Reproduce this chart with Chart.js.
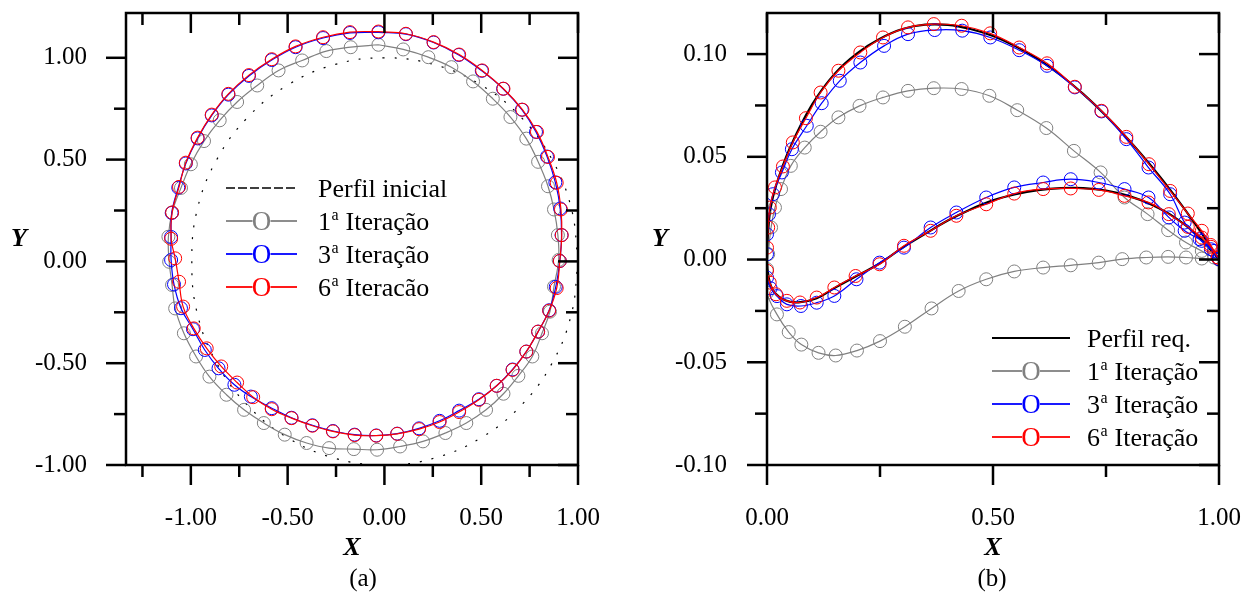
<!DOCTYPE html>
<html>
<head>
<meta charset="utf-8">
<script src="https://cdn.jsdelivr.net/npm/chart.js"></script>
<style>
body { margin: 0; background: #fff; }
#wrap { position: relative; width: 1253px; height: 592px; }
canvas { position: absolute; top: 0; }
#chartA { left: 0; }
#chartB { left: 640px; }
</style>
</head>
<body>
<div id="wrap">
<canvas id="chartA" width="640" height="592"></canvas>
<canvas id="chartB" width="613" height="592"></canvas>
</div>
<script>
const serif = "'Liberation Serif', 'Times New Roman', serif";

// ---- ticks
const xTicksA = [-1.25, -1, -0.75, -0.5, -0.25, 0, 0.25, 0.5, 0.75, 1];
const xLabelsA = [-1, -0.5, 0, 0.5, 1];
const yTicksA = [-1, -0.75, -0.5, -0.25, 0, 0.25, 0.5, 0.75, 1];
const yLabelsA = [-1, -0.5, 0, 0.5, 1];
const xTicksB = [0, 0.25, 0.5, 0.75, 1];
const xLabelsB = [0, 0.5, 1];
const yTicksB = [-0.1, -0.075, -0.05, -0.025, 0, 0.025, 0.05, 0.075, 0.1];
const yLabelsB = [-0.1, -0.05, 0, 0.05, 0.1];

// ---- legend texts
const legendA = ['Perfil inicial', '1ª Iteração', '3ª Iteração', '6ª Iteracão'];
const legendB = ['Perfil req.', '1ª Iteração', '3ª Iteração', '6ª Iteração'];

// ---- (a) profiles, closed curves [x, y]
const initialA = [[1,0],[0.966,0.259],[0.866,0.5],[0.707,0.707],[0.5,0.866],[0.259,0.966],[0,1],
  [-0.259,0.966],[-0.5,0.866],[-0.707,0.707],[-0.866,0.5],[-0.966,0.259],[-0.995,0],[-0.966,-0.259],
  [-0.866,-0.5],[-0.707,-0.707],[-0.5,-0.866],[-0.259,-0.966],[0,-1],[0.259,-0.966],[0.5,-0.866],
  [0.707,-0.707],[0.866,-0.5],[0.966,-0.259]];

const iter1A = [[-0.031,1.064],[-0.174,1.052],[-0.300,1.033],[-0.425,0.987],[-0.547,0.938],[-0.657,0.864],
  [-0.761,0.783],[-0.851,0.693],[-0.932,0.591],[-1.000,0.477],[-1.051,0.361],[-1.097,0.240],[-1.116,0.121],
  [-1.112,-0.002],[-1.097,-0.116],[-1.081,-0.231],[-1.036,-0.353],[-0.973,-0.467],[-0.904,-0.566],
  [-0.816,-0.655],[-0.725,-0.729],[-0.623,-0.794],[-0.515,-0.851],[-0.402,-0.892],[-0.286,-0.917],
  [-0.158,-0.922],[-0.038,-0.925],[0.081,-0.909],[0.199,-0.884],[0.315,-0.843],[0.423,-0.794],
  [0.525,-0.729],[0.615,-0.650],[0.692,-0.562],[0.764,-0.467],[0.814,-0.353],[0.855,-0.247],
  [0.876,-0.124],[0.900,0.007],[0.896,0.129],[0.876,0.255],[0.845,0.369],[0.794,0.489],[0.733,0.603],
  [0.651,0.709],[0.560,0.799],[0.458,0.884],[0.346,0.954],[0.227,1.003],[0.097,1.041]];

const iter3A = [[-0.031,1.125],[-0.178,1.122],[-0.317,1.097],[-0.459,1.052],[-0.582,0.989],[-0.700,0.911],
  [-0.806,0.819],[-0.892,0.717],[-0.965,0.604],[-1.026,0.481],[-1.065,0.362],[-1.099,0.238],[-1.102,0.120],
  [-1.102,0.007],[-1.087,-0.113],[-1.051,-0.230],[-0.989,-0.333],[-0.928,-0.435],[-0.857,-0.525],
  [-0.775,-0.606],[-0.690,-0.664],[-0.582,-0.721],[-0.480,-0.768],[-0.372,-0.805],[-0.266,-0.833],
  [-0.154,-0.851],[-0.042,-0.855],[0.066,-0.846],[0.179,-0.820],[0.285,-0.783],[0.386,-0.733],
  [0.488,-0.677],[0.580,-0.611],[0.662,-0.531],[0.733,-0.443],[0.794,-0.345],[0.851,-0.240],
  [0.885,-0.125],[0.906,0.002],[0.915,0.129],[0.908,0.260],[0.883,0.388],[0.840,0.515],[0.783,0.636],
  [0.710,0.745],[0.613,0.848],[0.503,0.936],[0.384,1.014],[0.254,1.075],[0.111,1.116]];

const iter6A = [[-0.031,1.129],[-0.178,1.126],[-0.317,1.101],[-0.459,1.056],[-0.582,0.993],[-0.700,0.915],
  [-0.806,0.823],[-0.892,0.721],[-0.965,0.608],[-1.026,0.485],[-1.061,0.366],[-1.097,0.240],[-1.102,0.111],
  [-1.081,0.015],[-1.061,-0.100],[-1.040,-0.222],[-0.985,-0.329],[-0.918,-0.427],[-0.843,-0.516],
  [-0.761,-0.595],[-0.678,-0.667],[-0.582,-0.726],[-0.480,-0.770],[-0.372,-0.807],[-0.266,-0.835],
  [-0.154,-0.853],[-0.042,-0.856],[0.066,-0.847],[0.179,-0.824],[0.285,-0.789],[0.386,-0.740],
  [0.488,-0.680],[0.580,-0.611],[0.662,-0.533],[0.733,-0.443],[0.794,-0.345],[0.851,-0.242],
  [0.890,-0.131],[0.906,0.002],[0.916,0.129],[0.912,0.255],[0.890,0.386],[0.845,0.513],[0.788,0.636],
  [0.713,0.745],[0.615,0.848],[0.505,0.938],[0.386,1.016],[0.254,1.077],[0.111,1.118]];

// ---- (b) airfoil, upper and lower surfaces from leading edge [x, y]
const reqUpper = [[0,0],[0.003,0.015],[0.008,0.025],[0.02,0.036],[0.05,0.054],[0.1,0.0755],[0.15,0.0905],
  [0.2,0.1005],[0.25,0.1075],[0.3,0.1122],[0.35,0.1143],[0.4,0.1142],[0.45,0.1122],[0.5,0.1088],
  [0.55,0.1038],[0.6,0.0975],[0.65,0.0897],[0.7,0.0805],[0.75,0.07],[0.8,0.0583],[0.85,0.0455],
  [0.9,0.0316],[0.95,0.0165],[1,0]];
const reqLower = [[0,0],[0.004,-0.009],[0.015,-0.0155],[0.04,-0.0198],[0.07,-0.0208],[0.11,-0.0188],
  [0.15,-0.0138],[0.2,-0.0078],[0.25,-0.0018],[0.3,0.0058],[0.35,0.0125],[0.4,0.019],[0.45,0.0244],
  [0.5,0.0288],[0.55,0.0318],[0.6,0.0338],[0.65,0.0348],[0.7,0.0348],[0.75,0.0336],[0.8,0.031],
  [0.85,0.0268],[0.9,0.0208],[0.95,0.0122],[1,0]];

const iter1Upper = [[0,-0.0047],[0.0026,0.0026],[0.009,0.0156],[0.0176,0.0253],[0.031,0.0343],[0.0527,0.0456],
  [0.0835,0.0545],[0.1186,0.0622],[0.158,0.0692],[0.2047,0.0748],[0.2566,0.0789],[0.312,0.0821],
  [0.369,0.0834],[0.4306,0.083],[0.492,0.0797],[0.5536,0.0727],[0.618,0.064],[0.679,0.0529],
  [0.738,0.0424],[0.791,0.0302],[0.842,0.0221],[0.8875,0.0143],[0.927,0.0083],[0.962,0.0042],
  [0.989,0.001],[1,0]];
const iter1Lower = [[0,-0.0161],[0.022,-0.0267],[0.048,-0.0353],[0.076,-0.0414],[0.114,-0.0454],
  [0.152,-0.0467],[0.199,-0.0443],[0.25,-0.0397],[0.305,-0.0327],[0.364,-0.0238],[0.424,-0.0153],
  [0.485,-0.0096],[0.547,-0.0058],[0.611,-0.0039],[0.672,-0.0028],[0.734,-0.0015],[0.786,0.0002],
  [0.839,0.001],[0.8875,0.0013],[0.927,0.001],[0.962,0.0005],[1,0]];

const iter3Upper = [[0,0.0026],[0,0.0123],[0.0044,0.022],[0.013,0.0318],[0.033,0.0424],[0.055,0.0537],
  [0.088,0.0651],[0.121,0.0761],[0.161,0.087],[0.2065,0.0959],[0.259,0.104],[0.312,0.1097],
  [0.371,0.1117],[0.432,0.1114],[0.494,0.1081],[0.558,0.1019],[0.6195,0.0943],[0.681,0.0838],
  [0.74,0.0721],[0.795,0.0586],[0.844,0.0448],[0.892,0.0318],[0.924,0.018],[0.957,0.0099],
  [0.982,0.005],[1,0.0002]];
const iter3Lower = [[0,-0.0088],[0.008,-0.014],[0.022,-0.0178],[0.044,-0.0218],[0.075,-0.0226],
  [0.11,-0.021],[0.149,-0.0177],[0.198,-0.0096],[0.249,-0.0015],[0.303,0.0058],[0.362,0.0156],
  [0.419,0.0229],[0.485,0.0302],[0.547,0.0351],[0.611,0.0375],[0.672,0.0391],[0.734,0.0375],
  [0.791,0.0343],[0.844,0.0302],[0.889,0.0205],[0.924,0.014],[0.962,0.0091],[0.989,0.0042],[1,0.0002]];

const iter6Upper = [[0,0.0058],[0.0026,0.0156],[0.0062,0.0253],[0.0176,0.0351],[0.0352,0.0453],
  [0.0571,0.057],[0.0861,0.0688],[0.1186,0.0813],[0.158,0.0919],[0.2065,0.1008],[0.2566,0.1081],
  [0.312,0.113],[0.369,0.1146],[0.4306,0.1138],[0.4938,0.1101],[0.558,0.1032],[0.6195,0.0955],
  [0.681,0.0841],[0.74,0.0724],[0.795,0.0597],[0.845,0.0464],[0.892,0.0334],[0.931,0.0224],
  [0.962,0.014],[0.9816,0.0071],[0.9974,0.001]];
const iter6Lower = [[0,-0.0055],[0.006,-0.0112],[0.02,-0.0169],[0.044,-0.0201],[0.073,-0.0209],
  [0.11,-0.0185],[0.149,-0.0136],[0.196,-0.008],[0.249,-0.0023],[0.303,0.0067],[0.362,0.014],
  [0.419,0.0213],[0.485,0.0269],[0.547,0.0321],[0.611,0.0343],[0.672,0.0346],[0.734,0.0339],
  [0.791,0.031],[0.844,0.0278],[0.889,0.0221],[0.931,0.0159],[0.962,0.0107],[0.982,0.0062],[0.997,0.001]];

// ---- helpers
const pts = arr => arr.map(p => ({x: p[0], y: p[1]}));
const loop = arr => pts(arr.concat([arr[0]]));
const airfoil = (up, low) => pts(up.slice().reverse().concat(low));

function curve(label, data, color, extra) {
  return Object.assign({
    label, data,
    borderColor: color, pointBorderColor: color,
    pointBackgroundColor: 'rgba(0,0,0,0)',
    showLine: true, tension: 0.4, borderWidth: 1.2,
    pointRadius: 6.5, pointBorderWidth: 1, pointHoverRadius: 6.5,
    legendMarker: true
  }, extra || {});
}
const loopRadius = data => data.map((_, i) => i === data.length - 1 ? 0 : 6.5);

function drawLabel(ctx, text, x, y) {
  const parts = text.split('ª');
  ctx.font = '26px ' + serif;
  ctx.fillText(parts[0], x, y);
  let cx = x + ctx.measureText(parts[0]).width;
  if (parts.length > 1) {
    ctx.font = '16px ' + serif;
    ctx.fillText('a', cx + 0.5, y - 10);
    cx += ctx.measureText('a').width + 1;
    ctx.font = '26px ' + serif;
    ctx.fillText(parts[1], cx, y);
  }
}

// frame, mirrored ticks, legend, texts
const decor = {
  id: 'decor',
  afterDraw(chart, args, o) {
    const {ctx, chartArea: a, scales: {x, y}} = chart;
    const seg = (x1, y1, x2, y2) => { ctx.beginPath(); ctx.moveTo(x1, y1); ctx.lineTo(x2, y2); ctx.stroke(); };
    ctx.save();
    ctx.strokeStyle = '#000';
    ctx.lineWidth = 2.5;
    ctx.strokeRect(a.left, a.top, a.right - a.left, a.bottom - a.top);
    x.ticks.forEach(t => {
      const p = x.getPixelForValue(t.value);
      const len = t.label ? 20 : 12;
      seg(p, a.bottom, p, a.bottom + len);
      seg(p, a.top, p, a.top + len);
    });
    y.ticks.forEach(t => {
      const p = y.getPixelForValue(t.value);
      const len = t.label ? 20 : 12;
      seg(a.left - len, p, a.left, p);
      seg(a.right - len, p, a.right, p);
    });

    // legend
    const L = o.legend;
    chart.data.datasets.forEach((ds, i) => {
      const yy = L.top + i * L.row;
      const mid = (L.x0 + L.x1) / 2;
      ctx.strokeStyle = ds.borderColor;
      ctx.lineWidth = ds.legendWidth || 1.8;
      ctx.setLineDash(ds.legendDash || []);
      if (ds.legendMarker) {
        seg(L.x0, yy, mid - 9, yy);
        seg(mid + 9, yy, L.x1, yy);
        ctx.fillStyle = ds.borderColor;
        ctx.font = '27px ' + serif;
        ctx.textAlign = 'center';
        ctx.textBaseline = 'alphabetic';
        ctx.fillText('O', mid, yy + 9);
      } else {
        seg(L.x0, yy, L.x1, yy);
      }
      ctx.setLineDash([]);
      ctx.fillStyle = '#000';
      ctx.textAlign = 'left';
      ctx.textBaseline = 'alphabetic';
      drawLabel(ctx, ds.label, L.textX, yy + 8.5);
    });

    ctx.fillStyle = '#000';
    ctx.textAlign = 'center';
    ctx.textBaseline = 'middle';
    ctx.font = 'italic bold 26px ' + serif;
    ctx.fillText('Y', o.yTitleX, (a.top + a.bottom) / 2);
    ctx.font = '25px ' + serif;
    ctx.fillText(o.panel, o.panelX, 579);
    ctx.restore();
  }
};

// tick padding is kept at 0 (it would enlarge the layout margins);
// the gap to the labels comes from the (invisible) tick length instead
function axisX(min, max, ticks, labels) {
  return {
    type: 'linear', position: 'bottom', min, max,
    afterBuildTicks: s => { s.ticks = ticks.map(v => ({value: v})); },
    afterFit: s => { s.height = 127; },
    grid: {color: 'rgba(0,0,0,0)', drawOnChartArea: false, tickLength: 41},
    border: {display: false},
    ticks: {autoSkip: false, maxRotation: 0, padding: 0, color: '#000',
      font: {family: serif, size: 25, lineHeight: 1},
      callback: v => labels.includes(v) ? v.toFixed(2) : ''},
    title: {display: true, text: 'X', color: '#000',
      font: {family: serif, size: 26, weight: 'bold', style: 'italic'},
      padding: {top: 0, bottom: 28}}
  };
}
function axisY(min, max, ticks, labels, width, gap) {
  return {
    type: 'linear', position: 'left', min, max,
    afterBuildTicks: s => { s.ticks = ticks.map(v => ({value: v})); },
    afterFit: s => { s.width = width; },
    grid: {color: 'rgba(0,0,0,0)', drawOnChartArea: false, tickLength: gap},
    border: {display: false},
    ticks: {autoSkip: false, padding: 0, color: '#000',
      font: {family: serif, size: 25, lineHeight: 1},
      callback: v => labels.includes(v) ? v.toFixed(2) : ''}
  };
}

const baseOpts = {
  responsive: false,
  animation: false,
  events: [],
  plugins: {legend: {display: false}, tooltip: {enabled: false}}
};

// ---- (a)  (order: lower value is drawn on top, so red ends up uppermost)
const dInit = loop(initialA), d1A = loop(iter1A), d3A = loop(iter3A), d6A = loop(iter6A);
new Chart(document.getElementById('chartA'), {
  type: 'scatter',
  data: {
    datasets: [
      curve(legendA[0], dInit, '#000', {pointRadius: 0, borderDash: [2, 10], borderWidth: 1.2, order: 4,
        legendMarker: false, legendDash: [9, 3], legendWidth: 1.6}),
      curve(legendA[1], d1A, '#808080', {pointRadius: loopRadius(d1A), order: 3}),
      curve(legendA[2], d3A, '#0000ff', {pointRadius: loopRadius(d3A), order: 2}),
      curve(legendA[3], d6A, '#ff0000', {pointRadius: loopRadius(d6A), order: 1})
    ]
  },
  options: Object.assign({}, baseOpts, {
    layout: {padding: {top: 13, right: 62, left: 0, bottom: 0}},
    scales: {
      x: axisX(-1.335, 1, xTicksA, xLabelsA),
      y: axisY(-1, 1.22, yTicksA, yLabelsA, 126, 39)
    },
    plugins: Object.assign({}, baseOpts.plugins, {
      decor: {legend: {x0: 226, x1: 297, textX: 318, top: 188, row: 33}, panel: '(a)', panelX: 363, yTitleX: 19}
    })
  }),
  plugins: [decor]
});

// ---- (b)
new Chart(document.getElementById('chartB'), {
  type: 'scatter',
  data: {
    datasets: [
      curve(legendB[0], airfoil(reqUpper, reqLower.slice(1)), '#000', {pointRadius: 0, borderWidth: 2.2, order: 4,
        legendMarker: false, legendWidth: 2}),
      curve(legendB[1], airfoil(iter1Upper, iter1Lower), '#808080', {order: 3}),
      curve(legendB[2], airfoil(iter3Upper, iter3Lower), '#0000ff', {order: 2}),
      curve(legendB[3], airfoil(iter6Upper, iter6Lower), '#ff0000', {order: 1})
    ]
  },
  options: Object.assign({}, baseOpts, {
    layout: {padding: {top: 13, right: 34, left: 0, bottom: 0}},
    scales: {
      x: axisX(0, 1, xTicksB, xLabelsB),
      y: axisY(-0.1, 0.12, yTicksB, yLabelsB, 127, 40)
    },
    plugins: Object.assign({}, baseOpts.plugins, {
      decor: {legend: {x0: 352, x1: 430, textX: 447, top: 338, row: 33}, panel: '(b)', panelX: 352, yTitleX: 20}
    })
  }),
  plugins: [decor]
});
</script>
</body>
</html>
